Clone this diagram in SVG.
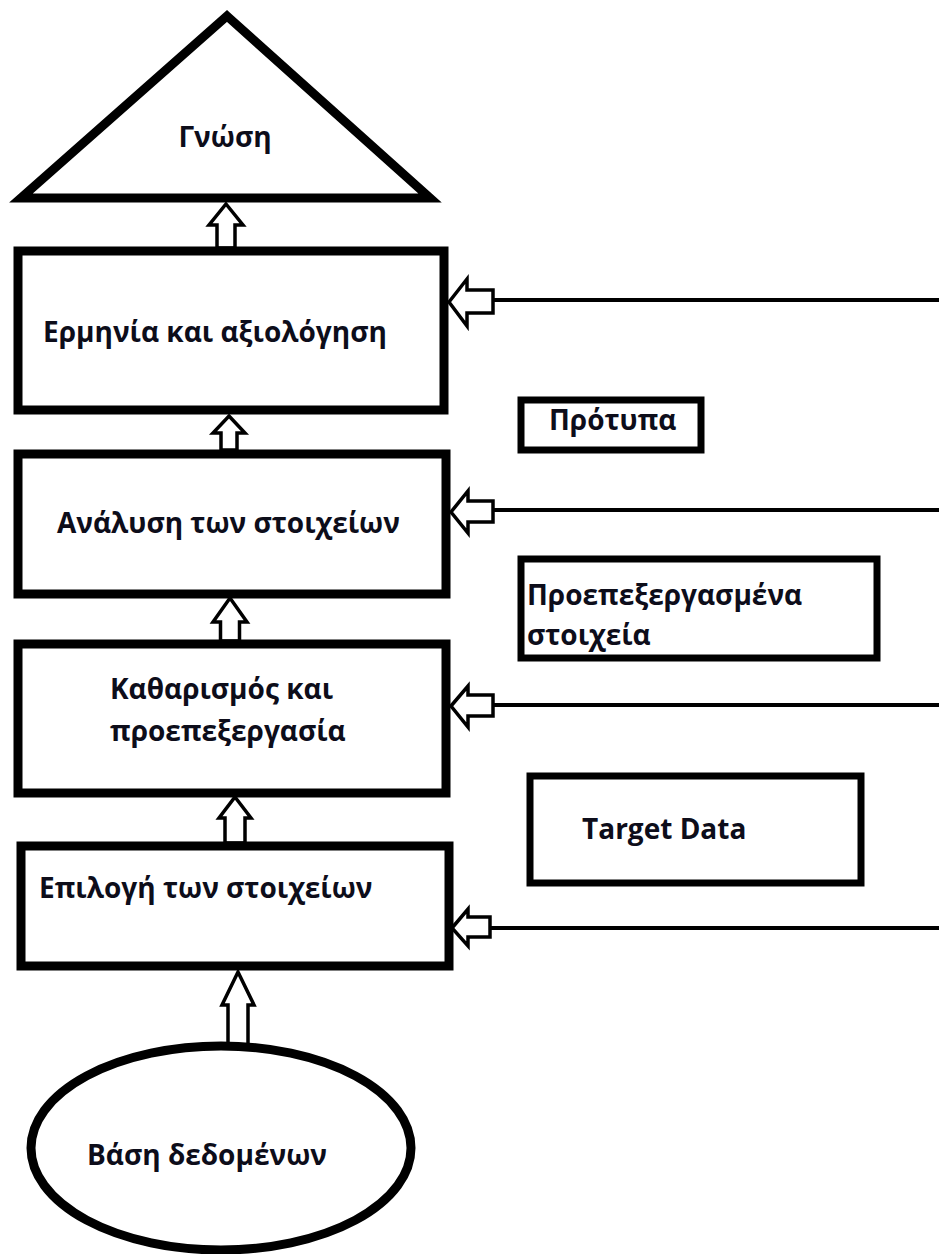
<svg xmlns="http://www.w3.org/2000/svg" width="939" height="1254" viewBox="0 0 939 1254">
<style>
.shape{fill:#fff;stroke:#000;stroke-width:9;stroke-linejoin:miter}
.thin{fill:#fff;stroke:#000;stroke-width:7}
.arr{fill:#fff;stroke:#000;stroke-width:3.5;stroke-linejoin:miter}
.line{stroke:#000;stroke-width:4;fill:none}
.t{font-family:"Open Sans","Noto Sans","DejaVu Sans",sans-serif;font-weight:bold;font-size:28px;fill:#0d0d1a}
</style>
<rect width="939" height="1254" fill="#fff"/>
<g id="connectors">
<polygon class="arr" points="226,204 243,225 235,225 235,248 217,248 217,225 209,225"/>
<polygon class="arr" points="229,416 245,433 237,433 237,450 221,450 221,433 213,433"/>
<polygon class="arr" points="230,598 247,622 239.5,622 239.5,641 220.5,641 220.5,622 213,622"/>
<polygon class="arr" points="235,797 251,818 245,818 245,843 225,843 225,818 219,818"/>
<polygon class="arr" points="238,972 254,1005 248,1005 248,1045 228,1045 228,1005 222,1005"/>
<line class="line" x1="492" y1="300" x2="939" y2="300"/>
<polygon class="arr" points="449,302 467,279 467,290 493,290 493,313 467,313 467,326"/>
<line class="line" x1="492" y1="510" x2="939" y2="510"/>
<polygon class="arr" points="451,512 468,491 468,501 493,501 493,522 468,522 468,533"/>
<line class="line" x1="492" y1="705" x2="939" y2="705"/>
<polygon class="arr" points="451,706 468,686 468,695 493,695 493,716 468,716 468,727"/>
<line class="line" x1="490" y1="928" x2="939" y2="928"/>
<polygon class="arr" points="452,928 468,909 468,917 490,917 490,937 468,937 468,946"/>
</g>
<g id="gnosi">
<polygon class="shape" points="227,16 430,198 21,198"/>
<text class="t" x="225" y="147" text-anchor="middle">Γνώση</text>
</g>
<g id="ermineia">
<rect class="shape" x="18" y="251" width="426" height="159"/>
<text class="t" x="43" y="342">Ερμηνία και αξιολόγηση</text>
</g>
<g id="analysi">
<rect class="shape" x="18" y="454" width="428" height="140"/>
<text class="t" x="57" y="533">Ανάλυση των στοιχείων</text>
</g>
<g id="katharismos">
<rect class="shape" x="18" y="644" width="428" height="149"/>
<text class="t" x="110" y="699">Καθαρισμός και</text>
<text class="t" x="110" y="741">προεπεξεργασία</text>
</g>
<g id="epilogi">
<rect class="shape" x="21" y="846" width="428" height="120"/>
<text class="t" x="39" y="898">Επιλογή των στοιχείων</text>
</g>
<g id="vasi">
<ellipse class="shape" cx="221" cy="1148" rx="190" ry="102"/>
<text class="t" x="87" y="1165">Βάση δεδομένων</text>
</g>
<g id="protypa">
<rect class="thin" x="521" y="400" width="180" height="50"/>
<text class="t" x="549" y="430">Πρότυπα</text>
</g>
<g id="proepexergasmena">
<rect class="thin" x="521" y="559" width="356" height="99"/>
<text class="t" x="527" y="605">Προεπεξεργασμένα</text>
<text class="t" x="527" y="645">στοιχεία</text>
</g>
<g id="target">
<rect class="thin" x="530" y="776" width="331" height="107"/>
<text class="t" x="582" y="839">Target Data</text>
</g>
</svg>
